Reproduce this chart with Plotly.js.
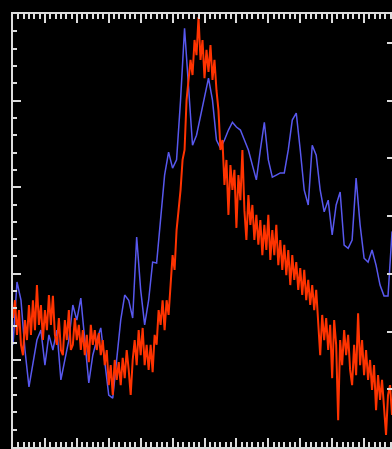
<!DOCTYPE html>
<html>
<head>
<meta charset="utf-8">
<script src="https://cdn.plot.ly/plotly-3.0.1.min.js"></script>
<style>
html,body{margin:0;padding:0;background:#000;overflow:hidden;}
#chart{width:400px;height:449px;}
</style>
</head>
<body>
<div id="chart"></div>
<script>
// Sampling grids (x axis units)
const blueStart = 0, blueStep = 0.125;
const redStart = 0, redStep = 0.0625;

// Blue series values (left-axis units)
const blueValues = [
23.6, 38.1, 33.9, 22.4, 13.9, 19.6, 24.7, 27.0, 18.9, 25.9,
22.4, 27.0, 15.5, 20.1, 24.7, 32.8, 29.3, 34.4, 24.7, 14.8,
21.2, 24.7, 27.5, 20.1, 12.0, 11.3, 20.8, 29.3, 35.1, 33.9,
29.8, 48.5, 36.3, 28.2, 33.9, 42.7, 42.5, 53.6, 62.8, 68.1,
64.4, 66.3, 80.1, 96.7, 82.4, 69.7, 72.0, 76.7, 81.3, 85.2,
80.1, 70.9, 69.0, 70.9, 73.2, 75.0, 73.9, 73.2, 70.9, 68.6,
65.1, 61.7, 68.6, 75.0, 66.3, 62.3, 62.8, 63.3, 63.3, 68.6,
75.5, 77.1, 68.6, 59.3, 55.9, 69.7, 67.4, 59.3, 54.3, 57.0,
49.0, 55.9, 58.9, 46.6, 45.9, 47.8, 62.1, 51.3, 43.6, 42.7,
45.5, 42.0, 37.4, 34.9, 34.9, 49.6, 51.3
];

// Red series values (left-axis units)
const redValues = [
29.8, 33.9, 25.9, 31.6, 23.6, 21.2, 29.3, 24.7, 32.8, 25.9,
33.9, 27.0, 37.4, 28.2, 32.8, 24.7, 31.6, 27.0, 35.1, 28.2,
34.9, 25.9, 23.6, 29.8, 22.4, 21.2, 29.3, 24.7, 31.6, 22.4,
23.6, 29.8, 24.7, 28.2, 22.4, 27.0, 21.2, 25.9, 19.6, 28.2,
23.6, 27.0, 22.4, 26.3, 21.2, 24.7, 18.9, 22.4, 14.3, 18.9,
12.0, 20.1, 15.5, 19.6, 14.3, 20.6, 15.9, 22.4, 17.8, 12.0,
20.1, 24.7, 18.9, 27.0, 21.2, 27.5, 18.9, 23.6, 17.8, 23.6,
17.3, 25.9, 23.6, 31.6, 28.2, 33.9, 27.0, 33.9, 30.5, 38.6,
44.3, 40.9, 50.1, 54.7, 59.4, 66.3, 68.6, 80.1, 84.8, 89.4,
85.9, 94.0, 90.5, 99.3, 89.4, 94.0, 85.2, 91.7, 86.6, 92.8,
84.8, 89.4, 82.4, 77.8, 68.6, 70.9, 60.5, 66.3, 53.6, 65.1,
59.4, 64.0, 50.6, 62.8, 57.0, 68.6, 54.7, 47.8, 58.2, 51.3,
55.9, 47.8, 53.6, 46.7, 52.4, 44.3, 51.3, 45.5, 53.6, 43.2,
50.1, 44.3, 51.3, 42.0, 47.8, 40.9, 46.7, 39.7, 45.5, 37.4,
44.3, 38.6, 42.7, 36.3, 41.3, 35.1, 40.9, 33.9, 38.6, 32.8,
37.4, 31.6, 36.3, 29.3, 21.2, 30.5, 24.7, 29.8, 22.4, 28.2,
15.9, 29.3, 23.6, 6.2, 24.7, 18.9, 27.0, 21.2, 25.9, 17.8,
14.3, 23.6, 16.6, 30.9, 18.9, 24.7, 16.6, 22.4, 15.5, 20.1,
13.2, 18.9, 8.5, 16.6, 10.9, 15.5, 8.5, 2.8, 12.0, 14.3,
7.4, 12.0, 6.2
];

const blueX = blueValues.map((_, i) => blueStart + i * blueStep);
const redX = redValues.map((_, i) => redStart + i * redStep);

const axisColor = '#DCDCDC';

const traces = [
  {x: blueX, y: blueValues, type: 'scatter', mode: 'lines',
   line: {color: '#5858EE', width: 1.5}, hoverinfo: 'skip'},
  {x: redX, y: redValues, type: 'scatter', mode: 'lines',
   line: {color: '#FF3300', width: 2}, hoverinfo: 'skip'},
  // invisible trace so the right axis is drawn
  {x: [0], y: [0], yaxis: 'y2', mode: 'markers', marker: {opacity: 0}, hoverinfo: 'skip'}
];

const layout = {
  width: 400, height: 449,
  margin: {l: 13, r: 4, t: 14, b: 2, pad: 0},
  paper_bgcolor: '#000', plot_bgcolor: '#000',
  showlegend: false,
  xaxis: {
    range: [0, 12], showgrid: false, zeroline: false,
    showline: true, linecolor: axisColor, linewidth: 2, mirror: 'ticks',
    ticks: 'inside', ticklen: 9, tickwidth: 2, tickcolor: axisColor,
    tick0: 0, dtick: 1, showticklabels: false,
    minor: {ticks: 'inside', ticklen: 5, tickwidth: 2, tickcolor: axisColor, dtick: 1/6, showgrid: false}
  },
  yaxis: {
    range: [0, 100], showgrid: false, zeroline: false,
    showline: true, linecolor: axisColor, linewidth: 2,
    ticks: 'inside', ticklen: 8, tickwidth: 2, tickcolor: axisColor,
    tick0: 0, dtick: 20, showticklabels: false,
    minor: {ticks: 'inside', ticklen: 4, tickwidth: 2, tickcolor: axisColor, dtick: 4, showgrid: false}
  },
  yaxis2: {
    overlaying: 'y', side: 'right', range: [0, 150],
    showgrid: false, zeroline: false,
    showline: true, linecolor: axisColor, linewidth: 2,
    ticks: 'inside', ticklen: 9, tickwidth: 2, tickcolor: axisColor,
    tick0: 0, dtick: 20, showticklabels: false
  }
};

Plotly.newPlot('chart', traces, layout, {staticPlot: true, displayModeBar: false});
</script>
</body>
</html>
